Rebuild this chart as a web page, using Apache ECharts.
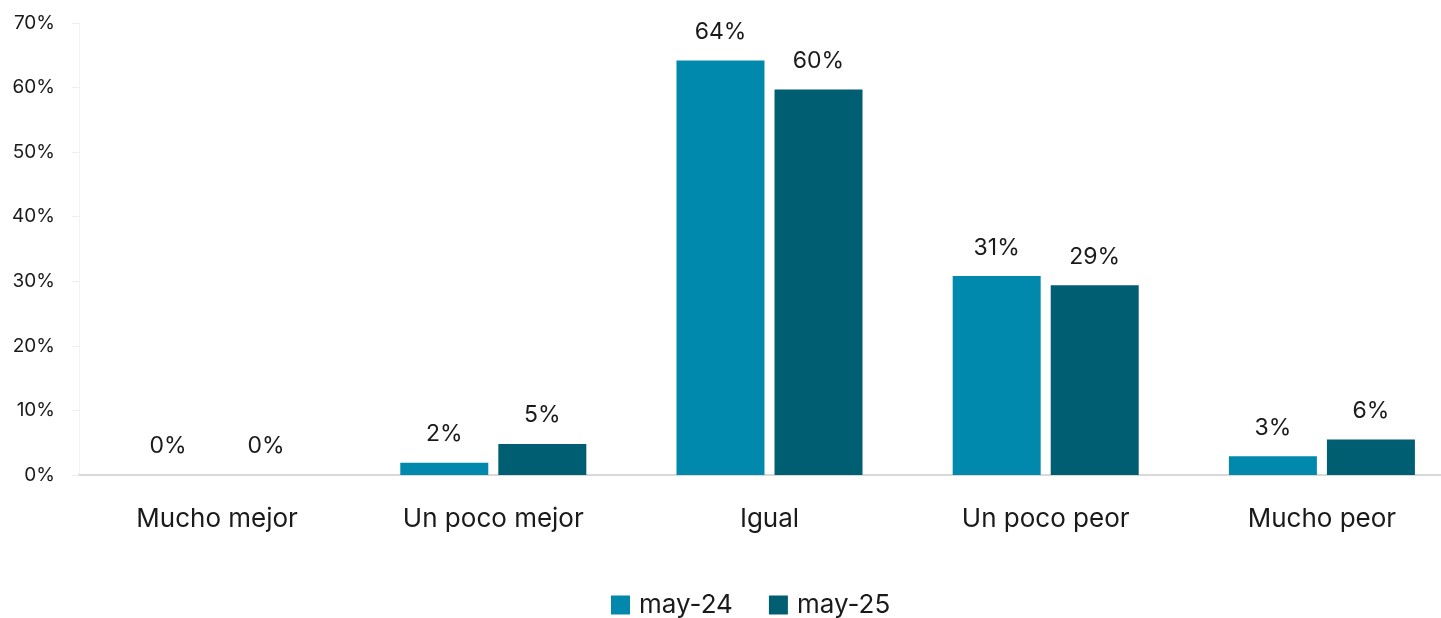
<!DOCTYPE html>
<html>
<head>
<meta charset="utf-8">
<script src="https://cdn.jsdelivr.net/npm/echarts@6/dist/echarts.min.js"></script>
<style>
html,body{margin:0;padding:0;background:#fff;overflow:hidden;width:1441px;height:618px;}
#chart{width:1460px;height:618px;}
</style>
</head>
<body>
<div id="chart"></div>
<script>
const categories = ['Mucho mejor', 'Un poco mejor', 'Igual', 'Un poco peor', 'Mucho peor'];
const seriesNames = ['may-24', 'may-25'];
const may24 = [0, 1.9, 64.2, 30.8, 2.9];
const may25 = [0, 4.8, 59.7, 29.4, 5.5];
const yTicks = [0, 10, 20, 30, 40, 50, 60, 70];
const colors = ['#0089AD', '#005E73'];

const FONT = 'Inter, "Open Sans", sans-serif';
const chart = echarts.init(document.getElementById('chart'), null, {renderer: 'canvas'});

const labelCfg = {
  show: true,
  position: 'top',
  distance: 17,
  fontFamily: FONT,
  fontSize: 23,
  color: '#1a1a1a',
  formatter: p => Math.round(p.value) + '%'
};

chart.setOption({
  animation: false,
  textStyle: {fontFamily: FONT},
  grid: {left: 79, right: 0, top: 23, bottom: 143, containLabel: false},
  legend: {
    data: seriesNames,
    left: 606,
    top: 587,
    itemWidth: 19,
    itemHeight: 19,
    itemGap: 36,
    icon: 'rect',
    textStyle: {fontFamily: FONT, fontSize: 26, color: '#1a1a1a', padding: [0, 0, 0, 4]}
  },
  xAxis: {
    type: 'category',
    data: categories,
    axisLine: {show: true, lineStyle: {color: '#d9d9d9', width: 2}},
    axisTick: {show: false},
    axisLabel: {fontFamily: FONT, fontSize: 26, color: '#1a1a1a', margin: 31}
  },
  yAxis: {
    type: 'value',
    min: yTicks[0],
    max: yTicks[yTicks.length - 1],
    interval: 10,
    axisLine: {show: true, lineStyle: {color: '#f2f2f2', width: 1}},
    axisTick: {show: true, length: 7, lineStyle: {color: '#eeeeee'}},
    splitLine: {show: false},
    axisLabel: {fontFamily: FONT, fontSize: 19, color: '#1a1a1a', margin: 24, formatter: v => v + '%'}
  },
  series: [
    {name: seriesNames[0], type: 'bar', data: may24, barWidth: 88, barGap: '11.4%', itemStyle: {color: colors[0]}, label: labelCfg},
    {name: seriesNames[1], type: 'bar', data: may25, barWidth: 88, barGap: '11.4%', itemStyle: {color: colors[1]}, label: labelCfg}
  ]
});
</script>
</body>
</html>
